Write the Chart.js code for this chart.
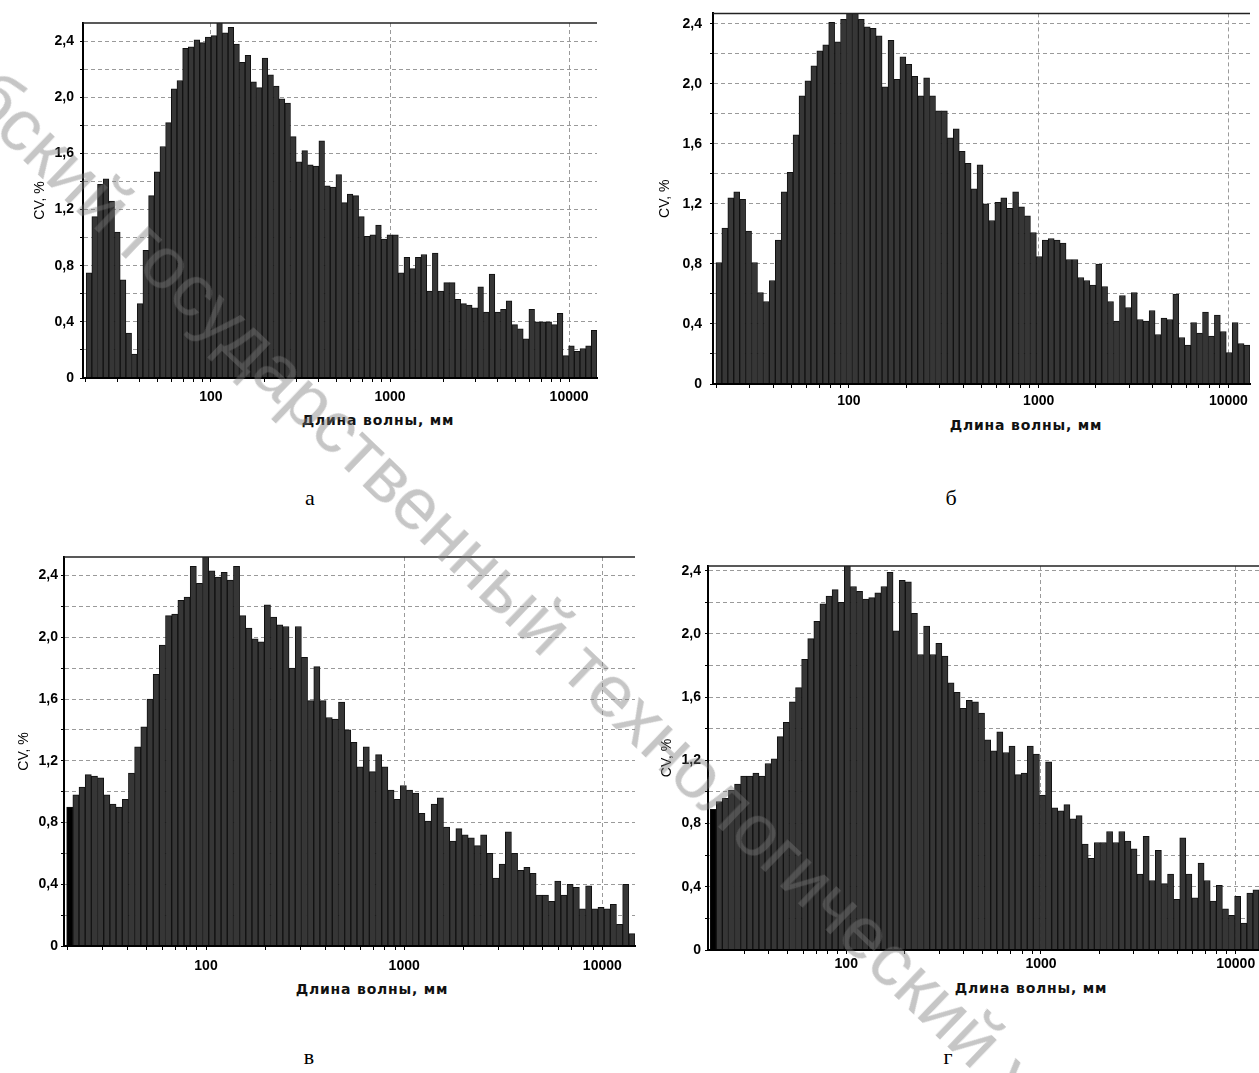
<!DOCTYPE html>
<html>
<head>
<meta charset="utf-8">
<script src="https://cdn.jsdelivr.net/npm/chart.js"></script>
<style>
  body { margin: 0; width: 1259px; height: 1073px; overflow: hidden; background: #fff; position: relative; font-family: "Liberation Sans", Arial, sans-serif; }
  canvas { position: absolute; }
  .xt { position: absolute; font-family: "DejaVu Sans", sans-serif; font-weight: bold; font-size: 14px; letter-spacing: 0.8px; transform: translate(-50%, -50%); white-space: nowrap; color: #111; }
  .cap { position: absolute; font-family: "Liberation Serif", "Times New Roman", serif; font-size: 22px; transform: translate(-50%, -50%); color: #000; }
  .wm { position: absolute; left: -138px; top: -72px; font-size: 74px; line-height: 1.15; white-space: nowrap; color: rgba(120,120,120,0.42); transform-origin: 0 50%; transform: rotate(43.8deg); pointer-events: none; z-index: 10; }
</style>
</head>
<body>
<div class="xt" style="left:378px;top:420px">Длина волны, мм</div>
<div class="xt" style="left:1026px;top:425px">Длина волны, мм</div>
<div class="xt" style="left:372px;top:989px">Длина волны, мм</div>
<div class="xt" style="left:1031px;top:988px">Длина волны, мм</div>
<div class="cap" style="left:310px;top:498px">а</div>
<div class="cap" style="left:951px;top:498px">б</div>
<div class="cap" style="left:309px;top:1057px">в</div>
<div class="cap" style="left:948px;top:1057px">г</div>
<div class="wm">Витебский государственный технологический университет</div>
<script>
// Wavelength (mm): left edge of first bar, right edge of last bar
const edgesA = [20.1, 14320];
const edgesB = [19.9, 13000];
const edgesC = [19.8, 14620];
const edgesD = [20.0, 13170];

// Visible x range of each plot (mm)
const rangeA = [19.3, 14320];
const rangeB = [19.2, 13000];
const rangeC = [19.2, 14620];
const rangeD = [19.5, 13170];

// CV, % per bin
const cvA = [0.75, 1.15, 1.38, 1.42, 1.26, 1.04, 0.70, 0.32, 0.17, 0.53,
  0.91, 1.30, 1.47, 1.65, 1.82, 2.06, 2.12, 2.35, 2.36, 2.41,
  2.39, 2.43, 2.44, 2.55, 2.46, 2.50, 2.38, 2.25, 2.30, 2.11,
  2.07, 2.28, 2.16, 2.08, 1.99, 1.96, 1.72, 1.54, 1.62, 1.52,
  1.51, 1.69, 1.37, 1.36, 1.45, 1.25, 1.31, 1.30, 1.15, 1.01,
  1.02, 1.09, 0.99, 1.02, 1.02, 0.75, 0.86, 0.78, 0.86, 0.88,
  0.62, 0.89, 0.62, 0.68, 0.68, 0.56, 0.53, 0.52, 0.50, 0.65,
  0.47, 0.74, 0.47, 0.49, 0.55, 0.38, 0.35, 0.28, 0.49, 0.40,
  0.40, 0.40, 0.38, 0.46, 0.16, 0.23, 0.19, 0.21, 0.23, 0.34];

const cvB = [0.81, 1.04, 1.24, 1.28, 1.23, 1.02, 0.81, 0.61, 0.55, 0.69,
  0.96, 1.28, 1.41, 1.66, 1.92, 2.02, 2.12, 2.22, 2.26, 2.41,
  2.28, 2.43, 2.50, 2.50, 2.43, 2.38, 2.37, 2.32, 1.98, 2.29,
  2.03, 2.18, 2.13, 2.05, 1.92, 2.04, 1.92, 1.82, 1.82, 1.64,
  1.70, 1.55, 1.47, 1.30, 1.46, 1.20, 1.09, 1.21, 1.24, 1.17,
  1.28, 1.18, 1.12, 1.01, 0.85, 0.96, 0.97, 0.96, 0.94, 0.83,
  0.83, 0.71, 0.69, 0.66, 0.80, 0.65, 0.55, 0.42, 0.59, 0.51,
  0.61, 0.43, 0.42, 0.49, 0.33, 0.44, 0.43, 0.60, 0.31, 0.26,
  0.41, 0.34, 0.48, 0.32, 0.46, 0.35, 0.21, 0.41, 0.27, 0.26];

const cvC = [0.90, 0.98, 1.03, 1.11, 1.10, 1.09, 0.98, 0.92, 0.90, 0.95,
  1.12, 1.29, 1.42, 1.60, 1.76, 1.95, 2.14, 2.15, 2.24, 2.26,
  2.46, 2.35, 2.55, 2.43, 2.39, 2.42, 2.37, 2.46, 2.14, 2.06,
  1.99, 1.97, 2.21, 2.13, 2.08, 2.07, 1.80, 2.07, 1.87, 1.59,
  1.81, 1.59, 1.48, 1.47, 1.58, 1.40, 1.32, 1.16, 1.29, 1.13,
  1.24, 1.16, 1.01, 0.95, 1.04, 1.01, 0.99, 0.86, 0.81, 0.92,
  0.96, 0.77, 0.68, 0.76, 0.72, 0.70, 0.65, 0.72, 0.60, 0.44,
  0.53, 0.74, 0.60, 0.49, 0.51, 0.47, 0.33, 0.33, 0.29, 0.42,
  0.33, 0.40, 0.38, 0.24, 0.39, 0.24, 0.25, 0.24, 0.27, 0.14,
  0.40, 0.08];

const cvD = [0.89, 0.94, 0.96, 1.01, 1.05, 1.10, 1.10, 1.12, 1.10, 1.18,
  1.21, 1.35, 1.44, 1.57, 1.66, 1.84, 1.97, 2.08, 2.19, 2.24,
  2.28, 2.20, 2.50, 2.30, 2.27, 2.22, 2.23, 2.26, 2.30, 2.39,
  2.02, 2.34, 2.33, 2.13, 1.87, 2.05, 1.87, 1.94, 1.86, 1.69,
  1.63, 1.53, 1.58, 1.57, 1.50, 1.33, 1.26, 1.38, 1.25, 1.29,
  1.11, 1.12, 1.29, 1.24, 0.98, 1.19, 0.90, 0.88, 0.92, 0.83,
  0.85, 0.67, 0.58, 0.68, 0.68, 0.75, 0.68, 0.75, 0.69, 0.64,
  0.48, 0.72, 0.44, 0.63, 0.42, 0.48, 0.32, 0.71, 0.48, 0.33,
  0.55, 0.44, 0.31, 0.41, 0.26, 0.22, 0.34, 0.17, 0.36, 0.38];

const xTickLabels = [100, 1000, 10000];
const yLabelEvery = 0.4;
const yStep = 0.2;

// plot boxes on the page: left, top, right, bottom of the plotting area
const panels = [
  { values: cvA, edges: edgesA, range: rangeA, yMax: 2.53, box: [83, 23, 597, 378], yw: 55, yPad: 6, xPad: 7, blackFirst: false },
  { values: cvB, edges: edgesB, range: rangeB, yMax: 2.47, box: [713, 12, 1250, 384], yw: 60, yPad: 8, xPad: 5, blackFirst: false },
  { values: cvC, edges: edgesC, range: rangeC, yMax: 2.52, box: [64, 557, 635, 946], yw: 52, yPad: 3, xPad: 8, blackFirst: true },
  { values: cvD, edges: edgesD, range: rangeD, yMax: 2.43, box: [708, 566, 1259, 950], yw: 53, yPad: 4, xPad: 2, blackFirst: true }
];

Chart.defaults.font.family = '"Liberation Sans", Arial, sans-serif';
const tickFont = { family: '"Liberation Sans", Arial, sans-serif', size: 14, weight: 'bold' };

function binCenters(edges, n) {
  const lo = Math.log10(edges[0]), hi = Math.log10(edges[1]);
  const step = (hi - lo) / n;
  const out = [];
  for (let i = 0; i < n; i++) out.push(Math.pow(10, lo + (i + 0.5) * step));
  return out;
}

function isPow10(v) {
  const l = Math.log10(v);
  return Math.abs(l - Math.round(l)) < 1e-9;
}

function isRoundTick(v) {
  const p = Math.pow(10, Math.floor(Math.log10(v) + 1e-9));
  const s = v / p;
  return Math.abs(s - Math.round(s)) < 1e-6;
}

function yLabel(v) {
  const k = v / yLabelEvery;
  if (Math.abs(k - Math.round(k)) > 1e-6) return '';
  return Math.abs(v) < 1e-9 ? '0' : v.toFixed(1).replace('.', ',');
}

// solid frame line along the top of the plot
const topFrame = {
  id: 'topFrame',
  afterDraw(chart) {
    const { ctx, chartArea: a } = chart;
    ctx.save();
    ctx.strokeStyle = '#222';
    ctx.lineWidth = 1.5;
    ctx.beginPath();
    ctx.moveTo(a.left, a.top);
    ctx.lineTo(a.right, a.top);
    ctx.stroke();
    ctx.restore();
  }
};

panels.forEach(p => {
  const [L, T, R, B] = p.box;
  const canvas = document.createElement('canvas');
  const left = L - p.yw, top = T - 15;
  canvas.width = R - left + 5;
  canvas.height = B - T + 45;
  canvas.style.left = left + 'px';
  canvas.style.top = top + 'px';
  document.body.appendChild(canvas);

  const colors = p.values.map((v, i) => (p.blackFirst && i === 0) ? '#000' : '#363636');

  new Chart(canvas, {
    type: 'bar',
    data: {
      labels: binCenters(p.edges, p.values.length),
      datasets: [{
        data: p.values,
        backgroundColor: colors,
        borderColor: '#111',
        borderWidth: 1,
        barPercentage: 1,
        categoryPercentage: 1,
        clip: 0
      }]
    },
    options: {
      responsive: false,
      animation: false,
      devicePixelRatio: 1,
      layout: { padding: { top: 15, right: 5, left: 0, bottom: 0 } },
      plugins: { legend: { display: false }, tooltip: { enabled: false } },
      scales: {
        x: {
          type: 'logarithmic',
          min: p.range[0],
          max: p.range[1],
          offset: false,
          afterBuildTicks: s => { s.ticks = s.ticks.filter(t => isRoundTick(t.value) && t.value > s.min && t.value < s.max); },
          afterFit: s => { s.height = 30; },
          grid: {
            offset: false,
            color: c => (c.tick && isPow10(c.tick.value)) ? '#9a9a9a' : 'rgba(0,0,0,0)',
            tickColor: '#000',
            tickLength: 4,
            lineWidth: 1
          },
          border: { color: '#000', width: 2, dash: [4, 3], z: 1 },
          ticks: {
            autoSkip: false,
            maxRotation: 0,
            minRotation: 0,
            padding: p.xPad,
            color: '#000',
            font: tickFont,
            callback: v => xTickLabels.some(t => Math.abs(t - v) < 1e-6) ? String(Math.round(v)) : ''
          }
        },
        y: {
          min: 0,
          max: p.yMax,
          afterFit: s => { s.width = p.yw; },
          grid: {
            color: c => (c.tick && Math.abs(c.tick.value) < 1e-9) ? 'rgba(0,0,0,0)' : '#9a9a9a',
            tickColor: '#000',
            tickLength: 3,
            lineWidth: 1
          },
          border: { color: '#000', width: 2, dash: [4, 3], z: 1 },
          ticks: {
            stepSize: yStep,
            includeBounds: false,
            autoSkip: false,
            padding: p.yPad,
            color: '#000',
            font: tickFont,
            callback: v => yLabel(v)
          },
          title: {
            display: true,
            text: 'CV, %',
            color: '#000',
            font: { size: 14 },
            padding: { top: 4, bottom: 4 }
          }
        }
      }
    },
    plugins: [topFrame]
  });
});
</script>
</body>
</html>
